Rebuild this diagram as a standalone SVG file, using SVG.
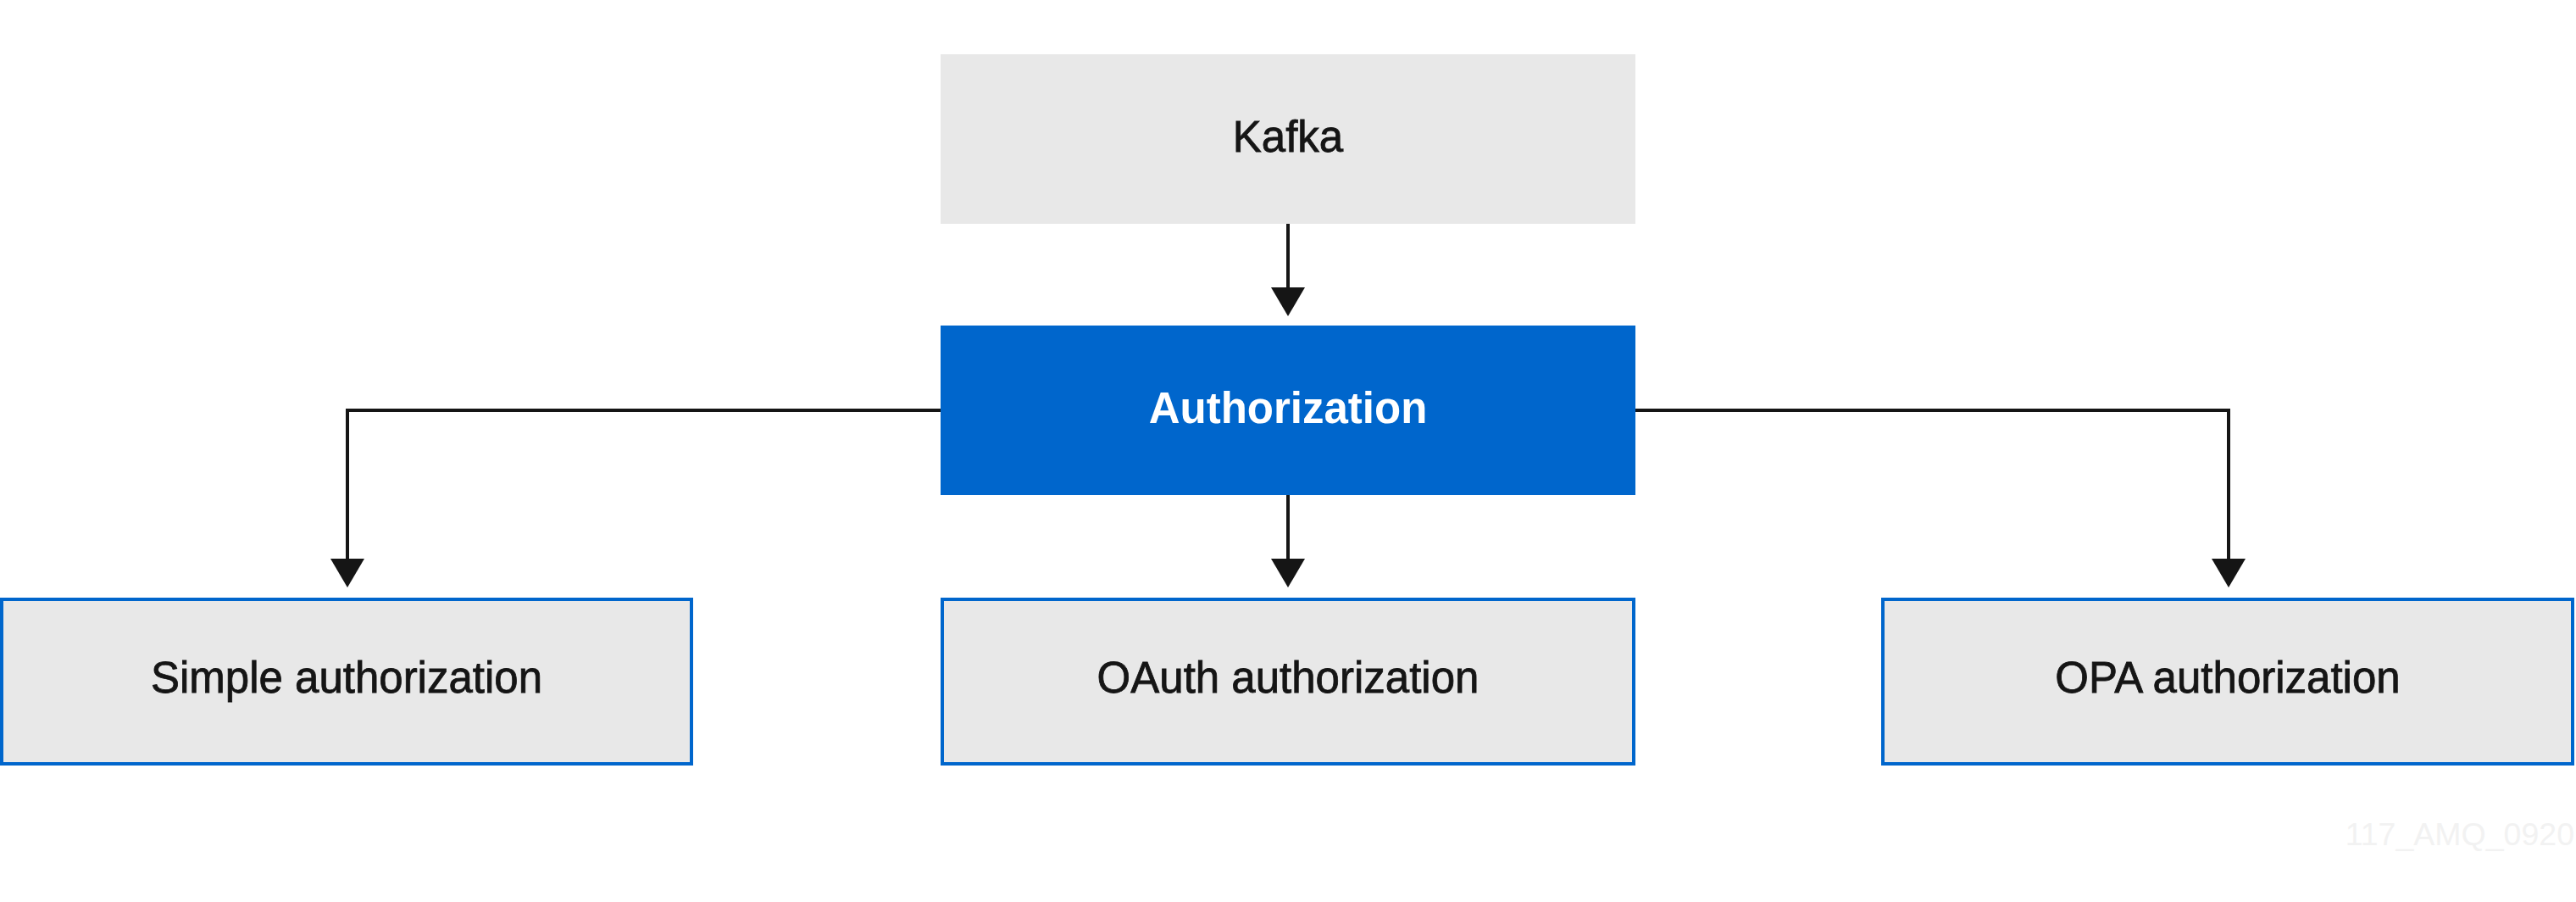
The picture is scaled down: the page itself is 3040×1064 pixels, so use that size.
<svg xmlns="http://www.w3.org/2000/svg" width="3040" height="1064" viewBox="0 0 3040 1064">
<style>
.lbl{font-family:"Liberation Sans",Arial,sans-serif;font-size:51px;fill:#151515;stroke:#151515;stroke-width:0.8px;text-anchor:middle}
.box{fill:#e8e8e8;stroke:#0066cc;stroke-width:4}
.conn{fill:none;stroke:#151515;stroke-width:4}
</style>
<defs>
<marker id="arr" markerUnits="userSpaceOnUse" markerWidth="34" markerHeight="40" refX="0" refY="20" orient="auto" viewBox="0 0 34 40">
<path d="M0,0 L34,20 L0,40 z" fill="#151515"/>
</marker>
</defs>
<rect width="3040" height="1064" fill="#ffffff"/>
<g id="connectors">
<path class="conn" d="M1520,264 V339" marker-end="url(#arr)"/>
<path class="conn" d="M1110,484 H410 V659" marker-end="url(#arr)"/>
<path class="conn" d="M1520,584 V659" marker-end="url(#arr)"/>
<path class="conn" d="M1930,484 H2630 V659" marker-end="url(#arr)"/>
</g>
<g id="kafka">
<rect x="1110" y="64" width="820" height="200" fill="#e8e8e8"/>
<text class="lbl" x="1520" y="179">Kafka</text>
</g>
<g id="authorization">
<rect x="1110" y="384" width="820" height="200" fill="#0066cc"/>
<text class="lbl" x="1520" y="499" style="font-weight:bold;fill:#ffffff;stroke:none">Authorization</text>
</g>
<g id="simple">
<rect class="box" x="2" y="707" width="814" height="194"/>
<text class="lbl" x="409" y="817">Simple authorization</text>
</g>
<g id="oauth">
<rect class="box" x="1112" y="707" width="816" height="194"/>
<text class="lbl" x="1520" y="817">OAuth authorization</text>
</g>
<g id="opa">
<rect class="box" x="2222" y="707" width="814" height="194"/>
<text class="lbl" x="2629" y="817">OPA authorization</text>
</g>
<text x="3038" y="997" style="font-family:'Liberation Sans',Arial,sans-serif;font-size:37.5px;fill:#f2f2f2;text-anchor:end">117_AMQ_0920</text>
</svg>
